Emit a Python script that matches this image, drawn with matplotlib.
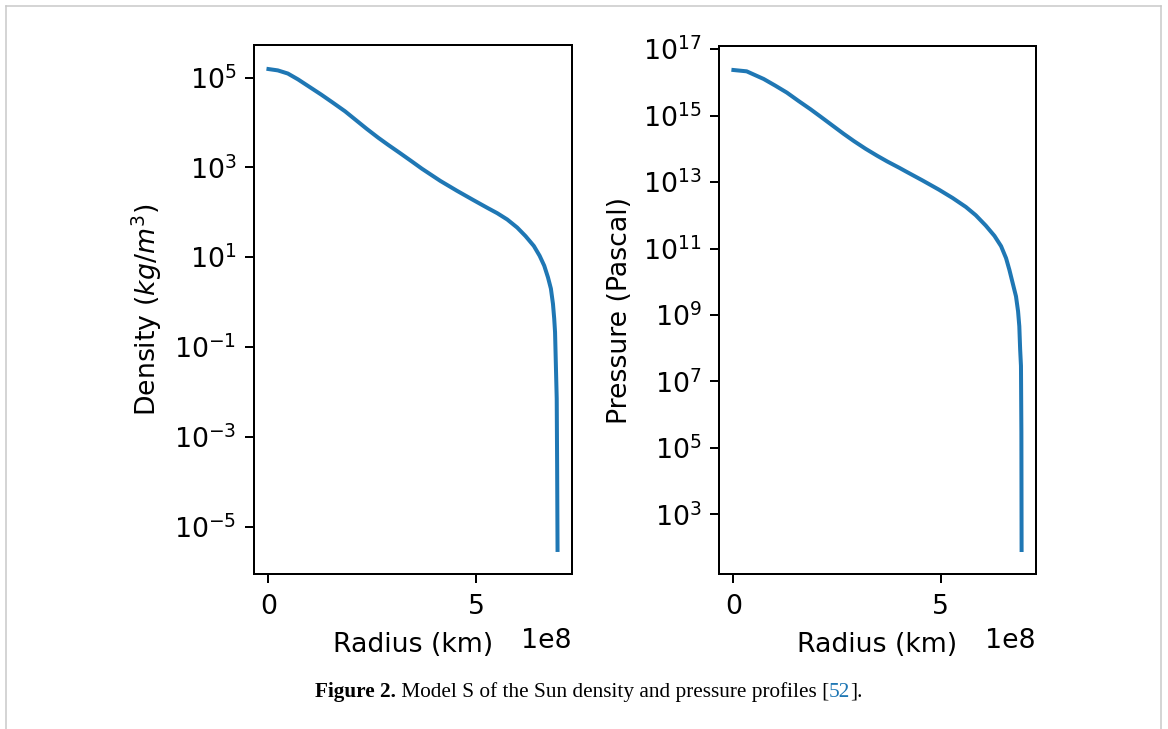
import matplotlib
matplotlib.use("Agg")
import matplotlib.pyplot as plt
from matplotlib.lines import Line2D
from matplotlib.ticker import NullLocator

# radius (units of 1e8), log10 density / pressure
radius_rho = [0.0, 0.225, 0.466, 0.71, 0.99, 1.27, 1.55, 1.84, 2.08, 2.36, 2.64, 2.88,
              3.16, 3.45, 3.69, 4.13, 4.53, 4.93, 5.26, 5.50, 5.74, 5.98, 6.18, 6.38,
              6.52, 6.63, 6.72, 6.79, 6.84, 6.87, 6.89, 6.91, 6.93, 6.94, 6.95]
log_rho = [5.19, 5.16, 5.09, 4.96, 4.79, 4.62, 4.44, 4.25, 4.07, 3.86, 3.66, 3.50,
           3.32, 3.13, 2.97, 2.70, 2.48, 2.27, 2.10, 1.98, 1.84, 1.66, 1.47, 1.25,
           1.03, 0.81, 0.55, 0.30, -0.04, -0.37, -0.67, -1.41, -2.15, -3.64, -5.52]

radius_p = [0.0, 0.32, 0.73, 1.01, 1.29, 1.57, 1.86, 2.10, 2.38, 2.66, 2.91, 3.19,
            3.47, 3.71, 4.00, 4.16, 4.56, 4.96, 5.29, 5.61, 5.85, 6.09, 6.30, 6.46,
            6.58, 6.66, 6.74, 6.82, 6.87, 6.90, 6.92, 6.94, 6.95, 6.955]
log_p = [16.37, 16.33, 16.10, 15.90, 15.69, 15.44, 15.19, 14.97, 14.71, 14.45, 14.23, 14.00,
         13.79, 13.62, 13.43, 13.32, 13.05, 12.77, 12.52, 12.25, 12.00, 11.69, 11.38, 11.07,
         10.71, 10.36, 9.96, 9.56, 9.11, 8.66, 7.97, 7.47, 5.47, 1.93]

rho_ticks = [1e5, 1e3, 1e1, 1e-1, 1e-3, 1e-5]
p_ticks = [1e17, 1e15, 1e13, 1e11, 1e9, 1e7, 1e5, 1e3]
r_ticks = [0, 5e8]

r1 = [r * 1e8 for r in radius_rho]
rho = [10 ** v for v in log_rho]
r2 = [r * 1e8 for r in radius_p]
p = [10 ** v for v in log_p]

plt.rcParams['font.size'] = 10.7
plt.rcParams['lines.linewidth'] = 1.6
plt.rcParams['xtick.major.pad'] = 4.7
plt.rcParams['axes.labelpad'] = 4.6

W, H = 1168, 729
fig = plt.figure(figsize=(W / 180, H / 180), dpi=180)

ax1 = fig.add_axes([254 / W, 1 - 574 / H, 318 / W, 529 / H])
ax1.plot(r1, rho)
ax1.set_yscale('log')
ax1.set_yticks(rho_ticks)
ax1.set_xticks(r_ticks)
ax1.yaxis.set_minor_locator(NullLocator())
ax1.set_xlabel('Radius (km)')
ax1.set_ylabel('Density ($kg/m^3$)', labelpad=4.0)

ax2 = fig.add_axes([719 / W, 1 - 574 / H, 317 / W, 528 / H])
ax2.plot(r2, p)
ax2.set_yscale('log')
ax2.set_yticks(p_ticks)
ax2.set_xticks(r_ticks)
ax2.yaxis.set_minor_locator(NullLocator())
ax2.set_xlabel('Radius (km)')
ax2.set_ylabel('Pressure (Pascal)', labelpad=4.0)

# page frame lines
grey = '#c8c8c8'
fig.add_artist(Line2D([6 / W, 1161 / W], [1 - 6 / H, 1 - 6 / H], transform=fig.transFigure, color=grey, lw=0.6))
fig.add_artist(Line2D([6 / W, 6 / W], [0, 1 - 6 / H], transform=fig.transFigure, color=grey, lw=0.6))
fig.add_artist(Line2D([1161 / W, 1161 / W], [0, 1 - 6 / H], transform=fig.transFigure, color=grey, lw=0.6))

# caption, built from pieces so "52" can be blue
serif = 'Liberation Serif'
cap_y = 1 - 697 / H
pieces = [('Figure 2.', 'bold', 'black'),
          (' Model S of the Sun density and pressure profiles [', 'normal', 'black'),
          ('52', 'normal', '#1f77b4'),
          ('].', 'normal', 'black')]
renderer = fig.canvas.get_renderer()
x = 315 / W
for txt, wt, col in pieces:
    t = fig.text(x, cap_y, txt, family=serif, weight=wt, color=col, fontsize=8.5, va='baseline')
    bb = t.get_window_extent(renderer)
    x = bb.x1 / W

fig.savefig('out.png', dpi=180)
